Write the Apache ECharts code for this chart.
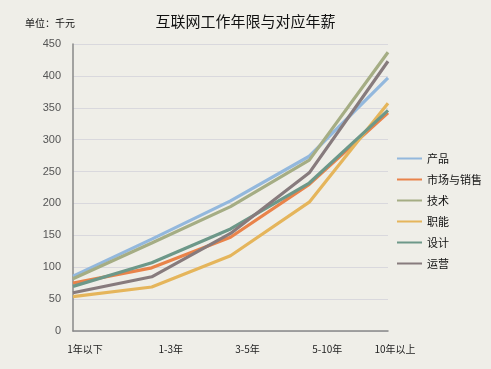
<!DOCTYPE html>
<html><head><meta charset="utf-8">
<script src="https://cdn.jsdelivr.net/npm/echarts@6/dist/echarts.min.js"></script>
<style>html,body{margin:0;padding:0;background:#efeee8;}#c{width:491px;height:369px;}</style>
</head><body><div id="c"></div>
<script>
const categories = ['1年以下','1-3年','3-5年','5-10年','10年以上'];
const seriesNames = ['产品','市场与销售','技术','职能','设计','运营'];
const chanpin = [86,144,204,274,397];
const shichang = [75,99,147,230,342];
const jishu = [82,138,195,268,437];
const zhineng = [54,69,118,202,357];
const sheji = [70,107,160,232,346];
const yunying = [60,85,153,248,423];
const yTicks = [0,50,100,150,200,250,300,350,400,450];
const colors = ['#93b8dd','#e9834a','#a5ad84','#e5b55b','#6d9889','#877b7d'];
const values = [chanpin,shichang,jishu,zhineng,sheji,yunying];
const labelShift = [24,38,34,36,14];
const rich = {};
labelShift.forEach((s,i)=>{rich['p'+i]={padding:[0,0,0,s],fontSize:10,color:'#222',fontFamily:'Noto Sans CJK SC'};});

const chart = echarts.init(document.getElementById('c'));
chart.setOption({
  backgroundColor:'#efeee8',
  color: colors,
  title:{text:'互联网工作年限与对应年薪',left:'center',top:9,textStyle:{fontSize:15,fontWeight:'normal',color:'#111',fontFamily:'Noto Sans CJK SC'}},
  graphic:[{type:'text',left:25,top:18,style:{text:'单位：千元',fontSize:10,fill:'#111',fontFamily:'Noto Sans CJK SC'}}],
  legend:{orient:'vertical',left:397,top:151,padding:0,itemGap:6,itemWidth:25,itemHeight:2,icon:'rect',
    textStyle:{fontSize:11,color:'#111',fontFamily:'Noto Sans CJK SC',lineHeight:15},data:seriesNames},
  grid:{left:73,right:103,top:44,bottom:38},
  xAxis:{type:'category',data:categories,boundaryGap:false,
    axisLine:{lineStyle:{color:'#888',width:1.5}},axisTick:{show:false},
    axisLabel:{interval:0,color:'#222',fontSize:10,margin:13,fontFamily:'Noto Sans CJK SC',
      formatter:(v,i)=>'{p'+i+'|'+v+'}',rich:rich}},
  yAxis:{type:'value',min:yTicks[0],max:yTicks[yTicks.length-1],interval:50,
    axisLine:{show:true,lineStyle:{color:'#888',width:1.5}},axisTick:{show:false},
    axisLabel:{color:'#555',fontSize:11,margin:12,fontFamily:'Liberation Sans'},
    splitLine:{lineStyle:{color:'#d9d8dd',width:1}}},
  series: seriesNames.map((n,i)=>({name:n,type:'line',data:values[i],symbol:'none',
    lineStyle:{width:3.2,color:colors[i]},itemStyle:{color:colors[i]}}))
});
</script></body></html>
